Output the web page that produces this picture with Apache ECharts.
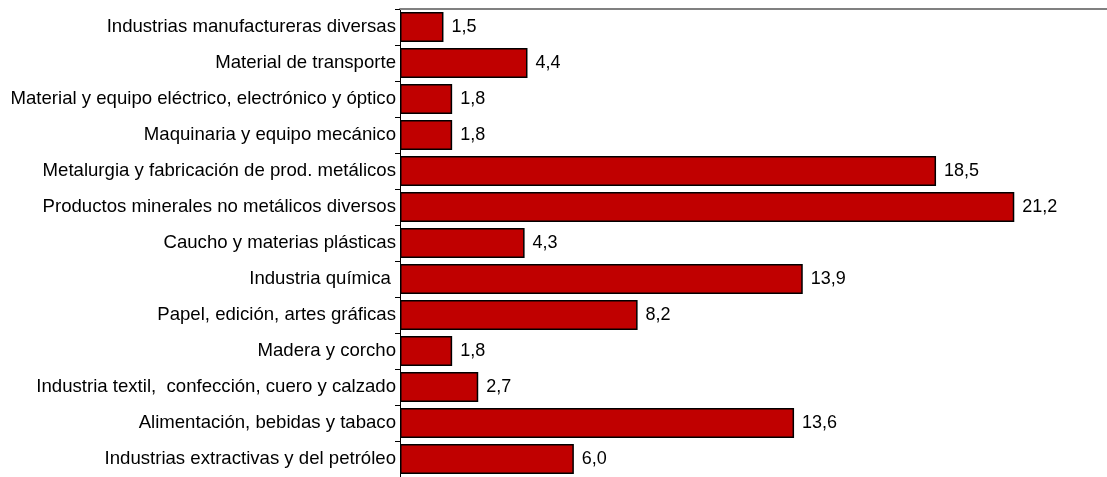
<!DOCTYPE html>
<html><head><meta charset="utf-8">
<script src="https://cdn.jsdelivr.net/npm/echarts@6/dist/echarts.min.js"></script>
<style>html,body{margin:0;padding:0;background:#fff}#c{width:1107px;height:477px}</style>
</head><body><div id="c"></div>
<script>
const categories = [
  "Industrias manufactureras diversas",
  "Material de transporte",
  "Material y equipo eléctrico, electrónico y óptico",
  "Maquinaria y equipo mecánico",
  "Metalurgia y fabricación de prod. metálicos",
  "Productos minerales no metálicos diversos",
  "Caucho y materias plásticas",
  "Industria química ",
  "Papel, edición, artes gráficas",
  "Madera y corcho",
  "Industria textil,  confección, cuero y calzado",
  "Alimentación, bebidas y tabaco",
  "Industrias extractivas y del petróleo"
];
const values = [1.5, 4.4, 1.8, 1.8, 18.5, 21.2, 4.3, 13.9, 8.2, 1.8, 2.7, 13.6, 6.0];

const chart = echarts.init(document.getElementById('c'));
chart.setOption({
  animation: false,
  grid: {left: 400, right: 0, top: 9, height: 472.5, containLabel: false},
  xAxis: {
    type: 'value', position: 'top', min: 0, max: 24.4,
    axisLine: {show: true, lineStyle: {color: '#808080', width: 2}},
    axisTick: {show: false}, axisLabel: {show: false}, splitLine: {show: false}
  },
  yAxis: {
    type: 'category', data: categories, inverse: true,
    axisLine: {show: true, lineStyle: {color: '#000', width: 1}},
    axisTick: {show: true, length: 5, lineStyle: {color: '#000'}},
    axisLabel: {color: '#000', fontFamily: 'Liberation Sans, Arial, sans-serif', fontSize: 18.6, margin: 4}
  },
  series: [{
    type: 'bar', data: values, barCategoryGap: '17%',
    itemStyle: {color: '#C00000', borderColor: '#000', borderWidth: 1.5},
    label: {show: true, position: 'right', distance: 8, color: '#000',
      fontFamily: 'Liberation Sans, Arial, sans-serif', fontSize: 18,
      formatter: p => p.value.toFixed(1).replace('.', ',')}
  }]
});
</script></body></html>
